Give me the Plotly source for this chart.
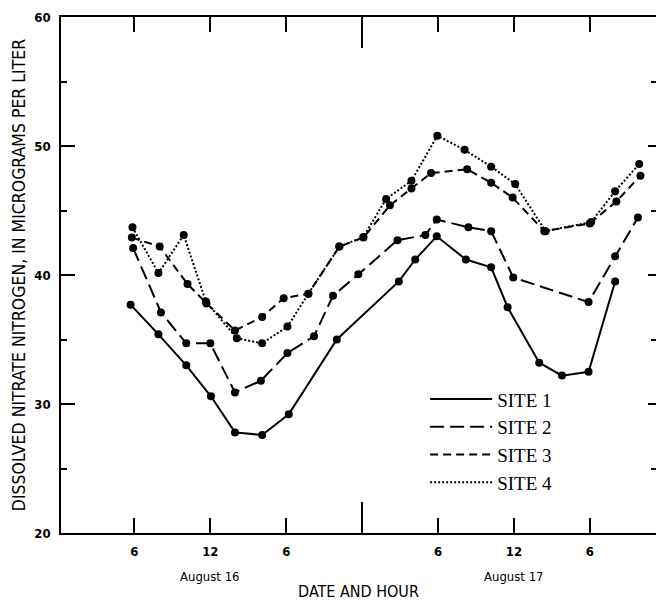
import plotly.graph_objects as go

# Hours since midnight, August 16
site1_hours = [5.7, 7.9, 10.1, 12.05, 13.95, 16.1, 18.2, 22.0, 26.9, 28.2, 29.9, 32.2, 34.2, 35.5, 38.0, 39.8, 41.9, 44.0]
site1_vals = [37.7, 35.4, 33.0, 30.6, 27.8, 27.6, 29.2, 35.0, 39.5, 41.2, 43.0, 41.2, 40.6, 37.5, 33.2, 32.2, 32.5, 39.5]

site2_hours = [5.9, 8.1, 10.1, 12.0, 13.95, 16.0, 18.1, 20.2, 21.7, 23.7, 26.8, 29.0, 29.9, 32.4, 34.2, 35.95, 41.9, 44.0, 45.8]
site2_vals = [42.1, 37.1, 34.7, 34.7, 30.9, 31.8, 33.95, 35.25, 38.4, 40.05, 42.7, 43.1, 44.3, 43.7, 43.4, 39.8, 37.9, 41.45, 44.45]

site3_hours = [5.8, 8.0, 10.2, 11.7, 13.95, 16.1, 17.8, 19.75, 22.2, 24.1, 26.2, 27.9, 29.45, 32.3, 34.2, 35.9, 38.4, 42.0, 44.1, 46.0]
site3_vals = [42.9, 42.2, 39.3, 37.8, 35.7, 36.75, 38.2, 38.55, 42.2, 42.9, 45.4, 46.7, 47.9, 48.2, 47.15, 46.0, 43.4, 44.0, 45.7, 47.7]

site4_hours = [5.85, 7.9, 9.9, 11.65, 14.1, 16.1, 18.1, 19.75, 22.2, 24.1, 25.9, 27.9, 29.95, 32.1, 34.2, 36.1, 38.5, 42.1, 44.0, 45.9]
site4_vals = [43.7, 40.15, 43.1, 37.95, 35.1, 34.7, 36.0, 38.55, 42.2, 42.95, 45.9, 47.3, 50.8, 49.7, 48.4, 47.05, 43.4, 44.1, 46.5, 48.6]

site_names = ["SITE 1", "SITE 2", "SITE 3", "SITE 4"]
x_tickvals = [6, 12, 18, 30, 36, 42]
x_ticktext = ["6", "12", "6", "6", "12", "6"]
day_label_hours = [12, 36]
day_labels = ["August 16", "August 17"]
y_major = [20, 30, 40, 50, 60]
y_minor = [25, 35, 45, 55]

dashes = ["solid", "14px,6px", "8px,5px", "2px,2px"]
series = [(site1_hours, site1_vals), (site2_hours, site2_vals),
          (site3_hours, site3_vals), (site4_hours, site4_vals)]

sans = "Liberation Sans Narrow, DejaVu Sans Condensed, Arial Narrow, sans-serif"
serif = "Liberation Serif, Times New Roman, serif"

fig = go.Figure()
for (xs, ys), name, dash in zip(series, site_names, dashes):
    fig.add_trace(go.Scatter(
        x=xs, y=ys, mode="lines+markers", name=name, showlegend=False,
        line=dict(color="black", width=2, dash=dash),
        marker=dict(color="black", size=8, symbol="circle"),
    ))
# legend-only entries (line samples without markers)
for name, dash in zip(site_names, dashes):
    fig.add_trace(go.Scatter(
        x=[None], y=[None], mode="lines", name=name, xaxis="x2", yaxis="y2",
        line=dict(color="black", width=2, dash=dash),
    ))

xr = [0.2, 47.23]
fig.update_layout(
    width=656, height=602,
    margin=dict(l=61, r=0, t=17, b=69, autoexpand=False),
    paper_bgcolor="white", plot_bgcolor="white",
    font=dict(family=sans, color="black"),
    xaxis=dict(
        range=xr, tickvals=x_tickvals, ticktext=x_ticktext, automargin=False,
        ticks="inside", ticklen=15, tickwidth=1.5, tickcolor="black",
        showline=True, linecolor="black", linewidth=1.5, mirror="ticks",
        showgrid=False, zeroline=False,
        tickfont=dict(family=sans, size=13, color="black", weight="bold"),
        ticklabelstandoff=6,
        title=dict(text="DATE AND HOUR", font=dict(family=sans, size=16), standoff=27),
    ),
    xaxis2=dict(
        range=xr, overlaying="x", anchor="y", side="bottom", automargin=False,
        tickvals=[24], ticks="inside", ticklen=31, tickwidth=1.5, tickcolor="black",
        showticklabels=False, showline=False, mirror="ticks",
        showgrid=False, zeroline=False,
    ),
    yaxis=dict(
        range=[20, 60], tickvals=y_major, automargin=False,
        ticks="inside", ticklen=14, tickwidth=1.5, tickcolor="black",
        minor=dict(tickvals=y_minor, ticks="inside", ticklen=6, tickwidth=1.5, tickcolor="black"),
        showline=True, linecolor="black", linewidth=1.5, mirror=False,
        showgrid=False, zeroline=False,
        tickfont=dict(family=sans, size=13, color="black", weight="bold"),
        ticklabelstandoff=6,
        title=dict(text="DISSOLVED NITRATE NITROGEN, IN MICROGRAMS PER LITER",
                   font=dict(family=sans, size=17.5), standoff=4),
    ),
    yaxis2=dict(
        range=[20, 60], overlaying="y", anchor="x", side="right", automargin=False,
        tickvals=y_major, ticks="inside", ticklen=8, tickwidth=1.5, tickcolor="black",
        minor=dict(tickvals=y_minor, ticks="inside", ticklen=5, tickwidth=1.5, tickcolor="black"),
        showticklabels=False, showline=False, showgrid=False, zeroline=False,
    ),
    legend=dict(
        x=0.612, y=0.296, xanchor="left", yanchor="top",
        bgcolor="rgba(0,0,0,0)", itemwidth=62, tracegroupgap=0,
        font=dict(family=serif, size=19, color="black"),
    ),
)
for hx, lab in zip(day_label_hours, day_labels):
    fig.add_annotation(x=hx, y=-0.085, xref="x", yref="paper", yanchor="middle",
                       text=lab, showarrow=False,
                       font=dict(family=sans, size=13, color="black"))

fig.write_html("out.html", config={"displayModeBar": False},
               post_script="document.body.style.margin='0';document.body.style.overflow='hidden';")
